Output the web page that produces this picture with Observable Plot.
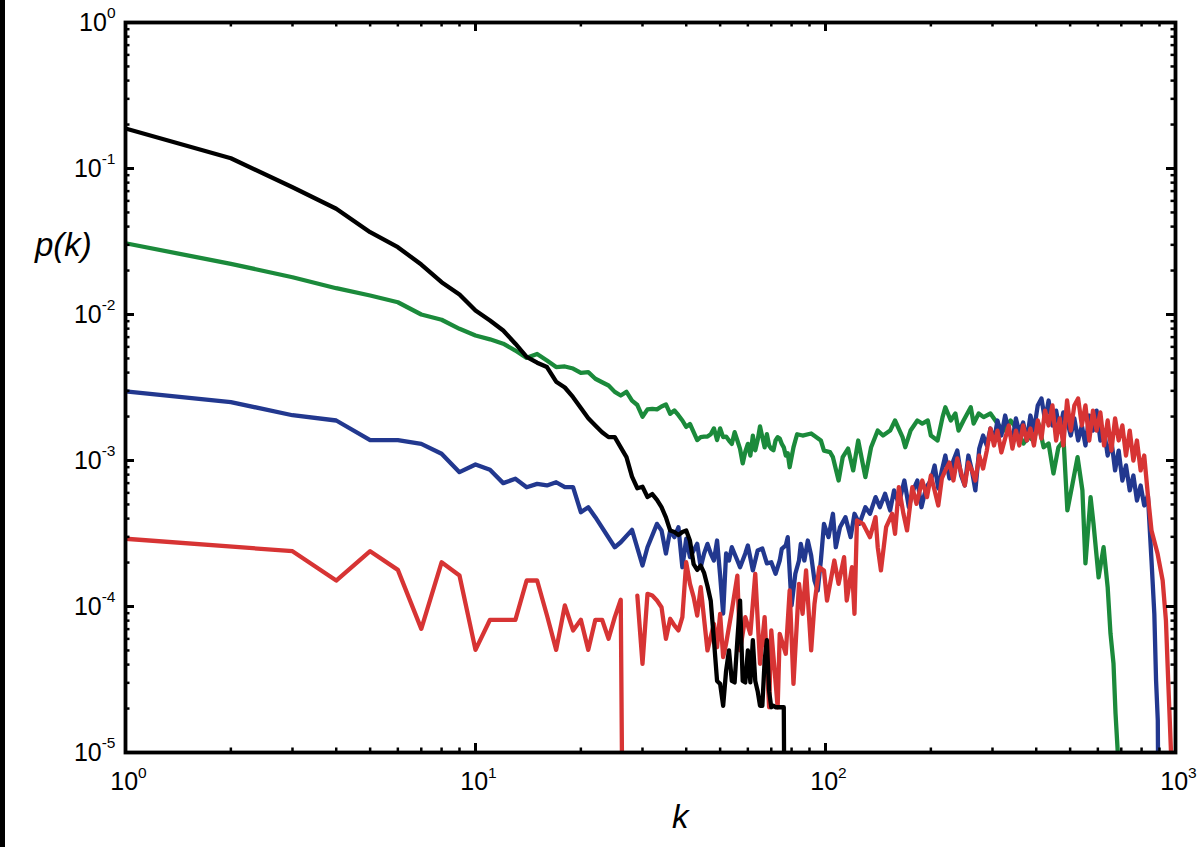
<!DOCTYPE html>
<html><head><meta charset="utf-8">
<script src="https://cdn.jsdelivr.net/npm/d3@7"></script>
<script src="https://cdn.jsdelivr.net/npm/@observablehq/plot@0.6"></script>
<style>
html,body{margin:0;padding:0;background:#fff;}
#wrap{position:relative;width:1200px;height:847px;overflow:hidden;font-family:"Liberation Sans",Arial,sans-serif;}
#bar{position:absolute;left:0;top:0;width:5px;height:847px;background:#000;}
.lab{position:absolute;font-style:italic;font-size:33px;line-height:33px;color:#000;white-space:nowrap;}
</style></head><body>
<div id="wrap"><div id="chart"></div><div id="bar"></div>
<div class="lab" style="left:35px;top:228px">p(k)</div>
<div class="lab" style="left:672px;top:800px">k</div>
</div>
<script>
// Each series: [k, log10 p(k)]; null = no value (gap)
const black = [[1,-0.726],[2,-0.93],[3,-1.128],[4,-1.276],[5,-1.436],[6,-1.539],[7,-1.658],[8,-1.779],[9,-1.863],[10,-1.973],
[11,-2.041],[12,-2.11],[13,-2.2],[14,-2.29],[15,-2.33],[16,-2.36],[17,-2.46],[18,-2.5],[19,-2.566],[20,-2.64],
[21,-2.71],[22,-2.76],[23,-2.806],[24,-2.84],[25,-2.84],[26,-2.91],[27,-2.977],[28,-3.11],[29,-3.19],[30,-3.18],
[31,-3.25],[32,-3.23],[33,-3.27],[34,-3.32],[35,-3.39],[36,-3.48],[37,-3.49],[38,-3.51],[39,-3.49],[40,-3.48],
[41,-3.55],[42,-3.71],[43,-3.75],[44,-3.72],[45,-3.77],[46,-3.86],[47,-3.96],[48,-4.23],[49,-4.51],[50,-4.53],
[51,-4.68],[52,-4.44],[53,-4.30],[54,-4.51],[55,-4.52],[56,-4.23],[57,-3.96],[58,-4.51],[59,-4.52],[60,-4.30],
[61,-4.52],[62,-4.23],[63,-4.51],[64,-4.58],[65,-4.68],[66,-4.68],[67,-4.37],[68,-4.23],[69,-4.58],[70,-4.69],
[71,-4.68],[72,-4.69],[73,-4.69],[74,-4.69],[75,-4.69],[76,-4.69],[77,-7]];

const green = [[1,-1.512],[2,-1.653],[3,-1.745],[4,-1.82],[5,-1.87],[6,-1.916],[7,-2.0],[8,-2.036],[9,-2.098],[10,-2.144],
[11,-2.17],[12,-2.2],[13,-2.247],[14,-2.297],[15,-2.27],[16,-2.315],[17,-2.36],[18,-2.356],[19,-2.37],[20,-2.40],
[21,-2.395],[22,-2.44],[23,-2.464],[24,-2.486],[25,-2.53],[26,-2.555],[27,-2.53],[28,-2.59],[29,-2.62],[30,-2.70],
[31,-2.65],[32,-2.646],[33,-2.65],[34,-2.63],[35,-2.616],[36,-2.68],[37,-2.657],[38,-2.69],[39,-2.726],[40,-2.77],
[41,-2.75],[42,-2.806],[43,-2.86],[44,-2.84],[45,-2.836],[46,-2.836],[47,-2.82],[48,-2.78],[49,-2.86],[50,-2.78],
[51,-2.84],[52,-2.836],[53,-2.863],[54,-2.886],[55,-2.806],[56,-2.863],[57,-2.92],[58,-3.02],[59,-2.94],[60,-2.886],
[61,-2.966],[62,-2.83],[63,-2.93],[64,-2.86],[65,-2.767],[66,-2.84],[67,-2.91],[68,-2.82],[69,-2.897],[70,-2.92],
[71,-2.93],[72,-2.863],[73,-2.84],[74,-2.85],[75,-2.886],[76,-2.91],[77,-2.966],[78,-2.95],[79,-3.046],[80,-2.977],
[81,-2.91],[82,-2.863],[83,-2.82],[86,-2.829],[91,-2.815],[97,-2.863],[99,-2.932],[103,-2.943],[105,-2.977],[109,-3.137],
[112,-2.977],[116,-2.918],[120,-3.068],[124,-2.863],[130,-3.114],[135,-2.909],[141,-2.795],[146,-2.829],[153,-2.795],[158,-2.726],
[166,-2.840],[169,-2.909],[175,-2.795],[183,-2.726],[189,-2.747],[196,-2.726],[200,-2.829],[209,-2.863],[216,-2.703],[220,-2.635],
[228,-2.726],[235,-2.678],[240,-2.795],[248,-2.726],[260,-2.635],[265,-2.747],[274,-2.678],[283,-2.703],[296,-2.678],[310,-2.747],
[323,-2.795],[338,-2.726],[354,-2.795],[368,-2.884],[380,-2.840],[393,-2.863],[406,-2.747],[420,-2.909],[434,-2.884],[448,-3.089],
[463,-2.909],[479,-2.863],[491,-3.342],[508,-3.158],[525,-2.977],[542,-3.205],[553,-3.705],[572,-3.251],[583,-3.432],[603,-3.801],
[623,-3.594],[640,-3.868],[652,-4.185],[665,-4.390],[674,-4.733],[684,-5.0],[690,-6.5]];

const blue = [[1,-2.527],[2,-2.60],[3,-2.69],[4,-2.726],[5,-2.86],[6,-2.86],[7,-2.886],[8,-2.954],[9,-3.08],[10,-3.027],
[11,-3.064],[12,-3.155],[13,-3.125],[14,-3.183],[15,-3.160],[16,-3.171],[17,-3.149],[18,-3.183],[19,-3.183],[20,-3.354],
[21,-3.320],[22,-3.388],[25,-3.594],[26,-3.560],[28,-3.475],[30,-3.719],[31,-3.594],[33,-3.434],[34,-3.479],[35,-3.637],
[36,-3.479],[37,-3.525],[38,-3.457],[39,-3.731],[40,-3.536],[41,-3.662],[42,-3.616],[43,-3.571],[44,-3.731],[45,-3.637],
[46,-3.571],[47,-3.637],[48,-3.685],[49,-3.548],[50,-3.788],[51,-4.048],[52,-3.637],[53,-3.685],[54,-3.594],[56,-3.685],
[57,-3.731],[59,-3.637],[60,-3.582],[62,-3.753],[64,-3.616],[66,-3.603],[68,-3.705],[70,-3.697],[72,-3.776],[74,-3.685],
[75,-3.605],[77,-3.582],[78,-3.525],[80,-3.993],[82,-3.776],[84,-3.685],[85,-3.571],[87,-3.685],[89,-3.548],[91,-3.651],
[93,-3.822],[95,-3.890],[97,-3.685],[99,-3.434],[102,-3.525],[105,-3.365],[107,-3.594],[110,-3.457],[114,-3.388],[118,-3.525],
[121,-3.365],[125,-3.434],[130,-3.320],[134,-3.365],[139,-3.251],[143,-3.320],[148,-3.228],[153,-3.342],[157,-3.205],[162,-3.297],
[168,-3.137],[173,-3.320],[178,-3.205],[183,-3.137],[188,-3.320],[194,-3.183],
[200,-3.137],[205,-3.034],[210,-3.192],[215,-3.068],[220,-2.966],[226,-3.123],[232,-3.0],[238,-2.932],[244,-3.103],[250,-3.171],
[256,-2.966],[262,-3.068],[268,-3.205],[275,-2.918],[282,-2.829],[289,-2.897],[296,-2.781],[303,-2.863],[310,-2.726],[318,-2.829],
[326,-2.692],[334,-2.795],[342,-2.863],[350,-2.712],[358,-2.808],[367,-2.740],[376,-2.863],[385,-2.692],[394,-2.795],[404,-2.623],
[414,-2.575],[424,-2.726],[434,-2.589],[445,-2.760],[456,-2.658],[467,-2.795],[478,-2.671],[490,-2.726],[502,-2.829],[514,-2.712],
[527,-2.863],[540,-2.760],[553,-2.897],[567,-2.692],[581,-2.795],[595,-2.658],[610,-2.863],[625,-2.795],[640,-2.966],[656,-2.863],
[672,-3.068],[688,-2.932],[705,-3.137],[722,-3.034],[740,-3.205],[758,-3.103],[776,-3.274],[795,-3.171],[814,-3.308],[834,-3.240],
[854,-3.685],[870,-4.050],[880,-4.507],[890,-4.781],[900,-6.5]];

const red = [[1,-3.536],[3,-3.621],[4,-3.822],[5,-3.621],[6,-3.749],[7,-4.153],[8,-3.697],[9,-3.788],[10,-4.297],
[11,-4.091],[12,-4.091],[13,-4.091],[14,-3.822],[15,-3.822],[16,-4.060],[17,-4.297],[18,-3.993],[19,-4.164],[20,-4.091],
[21,-4.297],[22,-4.091],[23,-4.091],[24,-4.221],[25,-4.073],[26,-3.954],[27,-9],[28,null],[29,-3.925],[30,-4.392],
[31,-3.913],[32,-3.925],[33,-3.959],[34,-4.005],[35,-4.221],[36,-4.084],[37,-4.130],[38,-4.164],[39,-4.073],[40,-3.697],
[41,-3.845],[42,-3.936],[43,-4.062],[44,-3.868],[46,-4.301],[48,-4.118],[49,-4.279],[50,-4.050],[51,-4.347],[52,-4.255],
[54,-4.027],[56,-3.788],[57,-4.301],[59,-4.073],[61,-4.187],[63,-3.776],[65,-4.392],[67,-4.073],[69,-4.690],[70,-4.164],
[73,-4.690],[74,-4.187],[77,-4.324],[79,-3.890],[81,-4.530],[84,-3.845],[86,-4.050],[88,-3.753],[91,-4.301],[93,-3.982],
[96,-3.731],[99,-3.753],[101,-3.959],[106,-3.685],[109,-3.845],[113,-3.662],[115,-3.959],[119,-3.731],[121,-4.050],[123,-3.411],
[128,-3.434],[134,-3.525],[139,-3.388],[141,-3.594],[144,-3.753],[149,-3.457],[155,-3.365],[158,-3.502],[162,-3.183],[167,-3.365],
[171,-3.479],[177,-3.183],[182,-3.297],[189,-3.137],[195,-3.251],
[200,-3.103],[205,-3.205],[210,-3.308],[215,-3.123],[220,-3.068],[226,-3.014],[232,-3.137],[238,-2.986],[244,-3.082],[250,-3.171],
[256,-3.014],[262,-3.068],[268,-3.137],[275,-2.966],[282,-3.055],[289,-2.932],[296,-2.781],[303,-2.897],[310,-2.795],[318,-2.945],
[326,-2.849],[334,-2.760],[342,-2.918],[350,-2.795],[358,-2.897],[367,-2.760],[376,-2.863],[385,-2.781],[394,-2.897],[404,-2.726],
[414,-2.849],[424,-2.658],[434,-2.760],[445,-2.623],[456,-2.863],[467,-2.712],[478,-2.897],[490,-2.589],[502,-2.795],[514,-2.623],
[527,-2.575],[540,-2.760],[553,-2.623],[567,-2.863],[581,-2.658],[595,-2.795],[610,-2.671],[625,-2.897],[640,-2.726],[656,-2.932],
[672,-2.712],[688,-2.863],[705,-2.760],[722,-2.966],[740,-2.795],[758,-3.0],[776,-2.863],[795,-3.068],[814,-2.966],[834,-3.240],
[854,-3.479],[889,-3.639],[919,-3.822],[939,-4.096],[949,-4.392],[971,-5.0],[980,-6.5]];

const seriesColors = {green:"#1b8a3b", blue:"#22388f", red:"#d73434", black:"#000000"};
const majorX = [1,10,100,1000];
const minorX = [2,3,4,5,6,7,8,9,20,30,40,50,60,70,80,90,200,300,400,500,600,700,800,900];
const majorY = [1e-5,1e-4,1e-3,1e-2,1e-1,1];
const minorY = [];
for (const d of [1e-5,1e-4,1e-3,1e-2,1e-1]) for (let m=2;m<=9;m++) minorY.push(+(d*m).toPrecision(3));

const toRows = arr => arr.map(([k,v]) => ({k, p: v == null ? NaN : Math.pow(10, v)}));
const series = [
  {data: toRows(green), color: seriesColors.green},
  {data: toRows(blue), color: seriesColors.blue},
  {data: toRows(red), color: seriesColors.red},
  {data: toRows(black), color: seriesColors.black}
];

const W=1200,H=847,ML=125,MR=25,MT=22,MB=95;
const FW=W-ML-MR, FH=H-MT-MB;
const MAJ=9, MIN=4.5;
const expFmt = d => String(Math.round(Math.log10(d)));

const chart = Plot.plot({
  width:W,height:H,marginLeft:ML,marginRight:MR,marginTop:MT,marginBottom:MB,
  style:{fontFamily:'"Liberation Sans", Arial, sans-serif', fontSize:"25px", background:"transparent", color:"black", overflow:"visible"},
  x:{type:"log",domain:[1,1000],nice:false},
  y:{type:"log",domain:[1e-5,1],nice:false},
  marks:[
    ...series.map(s => Plot.line(s.data,{x:"k",y:"p",stroke:s.color,strokeWidth:4.3,clip:true})),
    Plot.tickX(minorX,{x:d=>d,insetTop:FH-MIN,strokeWidth:2.5}),
    Plot.tickX(minorX,{x:d=>d,insetBottom:FH-MIN,strokeWidth:2.5}),
    Plot.tickX(majorX,{x:d=>d,insetTop:FH-MAJ,strokeWidth:3}),
    Plot.tickX(majorX,{x:d=>d,insetBottom:FH-MAJ,strokeWidth:3}),
    Plot.tickY(minorY,{y:d=>d,insetRight:FW-MIN,strokeWidth:2.5}),
    Plot.tickY(minorY,{y:d=>d,insetLeft:FW-MIN,strokeWidth:2.5}),
    Plot.tickY(majorY,{y:d=>d,insetRight:FW-MAJ,strokeWidth:3}),
    Plot.tickY(majorY,{y:d=>d,insetLeft:FW-MAJ,strokeWidth:3}),
    Plot.frame({stroke:"black",strokeWidth:3.8}),
    Plot.axisX(majorX,{anchor:"bottom",tickSize:0,tickPadding:20,tickFormat:expFmt,label:null,dx:3}),
    Plot.axisY(majorY,{anchor:"left",tickSize:0,tickPadding:10,tickFormat:expFmt,label:null})
  ]
});
document.getElementById("chart").append(chart);

// render tick labels as 10 with a raised exponent
const ns = "http://www.w3.org/2000/svg";
chart.querySelectorAll('[aria-label*="tick label"] text').forEach(t => {
  const e = t.textContent;
  t.textContent = "";
  const base = document.createElementNS(ns,"tspan"); base.textContent = "10";
  const sup = document.createElementNS(ns,"tspan");
  sup.setAttribute("dy","-12.5"); sup.setAttribute("font-size","15.5"); sup.textContent = e;
  t.append(base, sup);
});
</script>
</body></html>
